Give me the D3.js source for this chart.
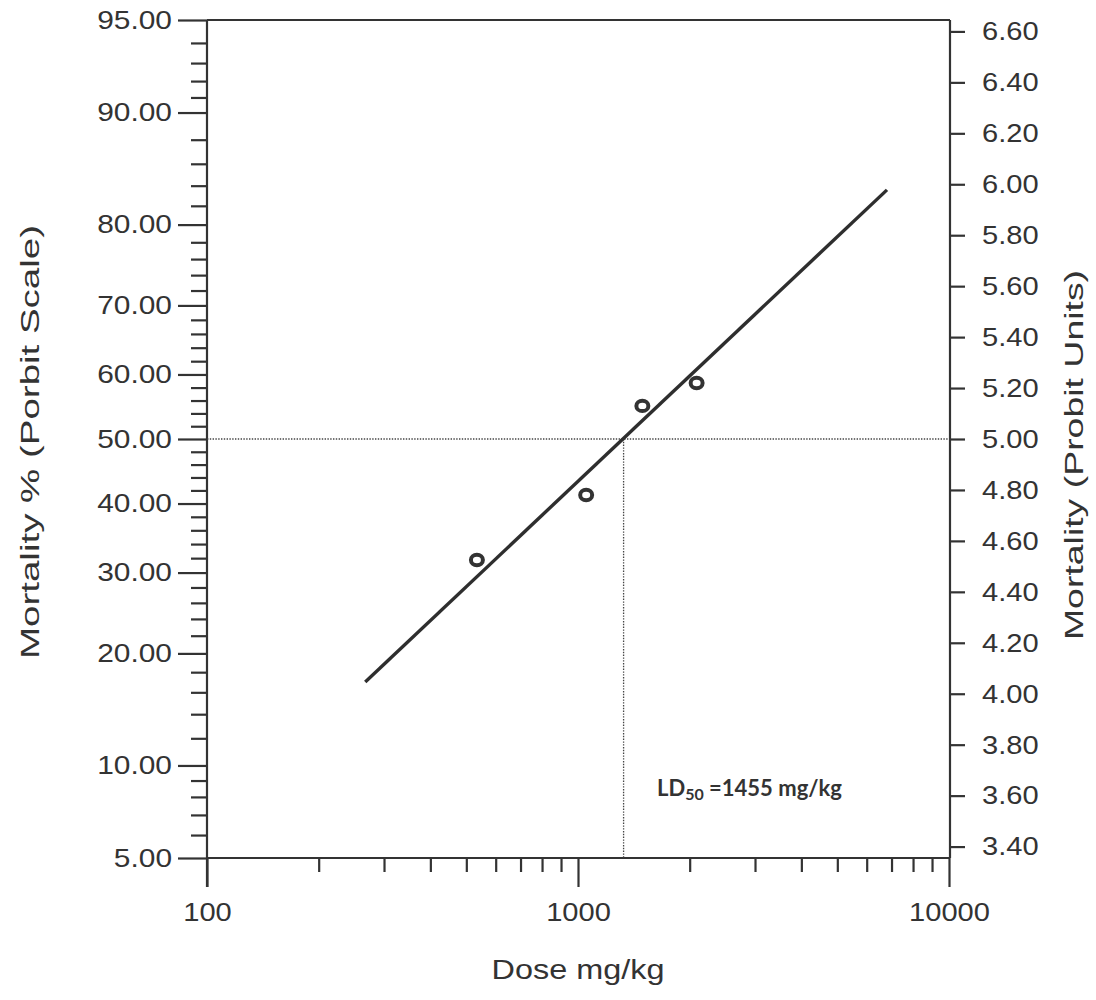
<!DOCTYPE html>
<html>
<head>
<meta charset="utf-8">
<script src="https://cdn.jsdelivr.net/npm/d3@7"></script>
<style>
  body { margin: 0; background: #fff; }
  text { font-family: "Liberation Sans", Arial, sans-serif; fill: #333; }
</style>
</head>
<body>
<svg id="chart"></svg>
<script>
// observed points (dose mg/kg, mortality in probit units)
var doses = [534, 1052, 1491, 2088];
var probits = [4.525, 4.78, 5.13, 5.22];

// fitted probit line ends
var fitDoses = [267, 6805];
var fitProbits = [4.046, 5.978];

// LD50
var ld50Dose = 1327;
var ld50Probit = 5.0;

var pctLabels = [5, 10, 20, 30, 40, 50, 60, 70, 80, 90, 95];
var pctMinor = [6, 7, 8, 9, 12, 14, 16, 18, 22, 24, 26, 28, 32, 34, 36, 38, 42, 44, 46, 48,
                52, 54, 56, 58, 62, 64, 66, 68, 72, 74, 76, 78, 82, 84, 86, 88, 91, 92, 93, 94];
var probitLabels = [3.4, 3.6, 3.8, 4.0, 4.2, 4.4, 4.6, 4.8, 5.0, 5.2, 5.4, 5.6, 5.8, 6.0, 6.2, 6.4, 6.6];
var doseMajor = [100, 1000, 10000];
var doseMinor = [200, 300, 400, 500, 600, 700, 800, 900, 2000, 3000, 4000, 5000, 6000, 7000, 8000, 9000];

// inverse normal (Acklam)
function qnorm(p){
  var a = [-39.69683028665376, 220.9460984245205, -275.9285104469687, 138.3577518672690, -30.66479806614716, 2.506628277459239],
      b = [-54.47609879822406, 161.5858368580409, -155.6989798598866, 66.80131188771972, -13.28068155288572],
      c = [-0.007784894002430293, -0.3223964580411365, -2.400758277161838, -2.549732539343734, 4.374664141464968, 2.938163982698783],
      d = [0.007784695709041462, 0.3224671290700398, 2.445134137142996, 3.754408661907416];
  var q, r;
  if(p < 0.02425){
    q = Math.sqrt(-2 * Math.log(p));
    return (((((c[0]*q+c[1])*q+c[2])*q+c[3])*q+c[4])*q+c[5]) / ((((d[0]*q+d[1])*q+d[2])*q+d[3])*q+1);
  }
  if(p > 1 - 0.02425) return -qnorm(1 - p);
  q = p - 0.5; r = q * q;
  return (((((a[0]*r+a[1])*r+a[2])*r+a[3])*r+a[4])*r+a[5])*q / (((((b[0]*r+b[1])*r+b[2])*r+b[3])*r+b[4])*r+1);
}
function pctToProbit(pct){ return 5 + qnorm(pct / 100); }

var width = 1096, height = 1000;
var plotL = 207, plotR = 949, plotT = 20, plotB = 858;
var ink = '#333';

var svg = d3.select('#chart').attr('width', width).attr('height', height);

var x = d3.scaleLog().domain([100, 10000]).range([plotL, plotR]);
var y = d3.scaleLinear().domain([pctToProbit(5), pctToProbit(95)]).range([plotB, plotT]);

// stretch tick text horizontally, the source font is wide
function stretch(sel, sx){
  sel.selectAll('text').each(function(){
    var t = d3.select(this);
    var tx = +t.attr('x') || 0;
    t.attr('x', tx / sx).attr('transform', 'scale(' + sx + ',1)');
  });
}

function styleAxis(g){
  g.selectAll('path, line').attr('stroke', ink).attr('stroke-width', 2.2);
  g.selectAll('text').attr('fill', ink).style('font-size', '26px')
    .style('font-family', '"Liberation Sans", Arial, sans-serif');
}

// left axis (percent on probit scale)
var leftMinor = svg.append('g').attr('transform', 'translate(' + plotL + ',0)')
  .call(d3.axisLeft(y).tickValues(pctMinor.map(pctToProbit)).tickSize(16).tickSizeOuter(0).tickFormat(''));
styleAxis(leftMinor);
leftMinor.select('.domain').remove();

var leftAxis = svg.append('g').attr('transform', 'translate(' + plotL + ',0)')
  .call(d3.axisLeft(y).tickValues(pctLabels.map(pctToProbit)).tickSize(29).tickSizeOuter(0).tickPadding(6)
    .tickFormat(function(d, i){ return pctLabels[i].toFixed(2); }));
styleAxis(leftAxis);
leftAxis.select('.domain').attr('d', 'M0,' + plotT + 'V' + (plotB + 29));
stretch(leftAxis, 1.15);

// right axis (probit units)
var rightAxis = svg.append('g').attr('transform', 'translate(' + (plotR + 1) + ',0)')
  .call(d3.axisRight(y).tickValues(probitLabels).tickSize(15).tickSizeOuter(0).tickPadding(17)
    .tickFormat(d3.format('.2f')));
styleAxis(rightAxis);
rightAxis.select('.domain').attr('d', 'M0,' + plotT + 'V' + plotB);
stretch(rightAxis, 1.12);

// bottom axis (log dose)
var botMinor = svg.append('g').attr('transform', 'translate(0,' + plotB + ')')
  .call(d3.axisBottom(x).tickValues(doseMinor).tickSize(14).tickSizeOuter(0).tickFormat(''));
styleAxis(botMinor);
botMinor.select('.domain').remove();

var botAxis = svg.append('g').attr('transform', 'translate(0,' + plotB + ')')
  .call(d3.axisBottom(x).tickValues(doseMajor).tickSize(29).tickSizeOuter(0).tickPadding(16)
    .tickFormat(d3.format('d')));
styleAxis(botAxis);
botAxis.select('.domain').attr('d', 'M' + plotL + ',0H' + (plotR + 1));
stretch(botAxis, 1.12);

// top frame line
svg.append('line')
  .attr('x1', plotL).attr('x2', plotR + 1).attr('y1', plotT).attr('y2', plotT)
  .attr('stroke', ink).attr('stroke-width', 2.2);

// LD50 guide lines
svg.append('line')
  .attr('x1', plotL).attr('x2', plotR)
  .attr('y1', y(ld50Probit)).attr('y2', y(ld50Probit))
  .attr('stroke', '#444').attr('stroke-width', 1.3).attr('stroke-dasharray', '1.4,1.4');
svg.append('line')
  .attr('x1', x(ld50Dose)).attr('x2', x(ld50Dose))
  .attr('y1', y(ld50Probit)).attr('y2', plotB)
  .attr('stroke', '#444').attr('stroke-width', 1.3).attr('stroke-dasharray', '1.4,1.4');

// fitted line
var line = d3.line()
  .x(function(d){ return x(d[0]); })
  .y(function(d){ return y(d[1]); });
svg.append('path')
  .datum(d3.zip(fitDoses, fitProbits))
  .attr('d', line)
  .attr('fill', 'none').attr('stroke', '#2e2e2e').attr('stroke-width', 3.4);

// observed points drawn as small "o" rings
svg.selectAll('ellipse.pt')
  .data(d3.zip(doses, probits))
  .enter()
    .append('ellipse')
      .attr('class', 'pt')
      .attr('cx', function(d){ return x(d[0]); })
      .attr('cy', function(d){ return y(d[1]); })
      .attr('rx', 6).attr('ry', 5.2)
      .attr('fill', 'none').attr('stroke', '#333').attr('stroke-width', 4);

// LD50 label
var lab = svg.append('text')
  .attr('x', 657).attr('y', 796)
  .style('font-family', 'Lato, "Open Sans", sans-serif').style('font-weight', 'bold')
  .style('font-size', '22px').attr('fill', '#2e2e2e');
lab.append('tspan').text('LD');
lab.append('tspan').attr('dy', 4).style('font-size', '16px').text('50');
lab.append('tspan').attr('dy', -4).text(' =1455 mg/kg');

// axis titles
svg.append('text')
  .attr('transform', 'translate(578,979) scale(1.2,1)')
  .attr('text-anchor', 'middle').style('font-size', '27px')
  .text('Dose mg/kg');
svg.append('text')
  .attr('transform', 'translate(39,442) rotate(-90) scale(1.48,1)')
  .attr('text-anchor', 'middle').style('font-size', '26px')
  .text('Mortality % (Porbit Scale)');
svg.append('text')
  .attr('transform', 'translate(1083,455) rotate(-90) scale(1.44,1)')
  .attr('text-anchor', 'middle').style('font-size', '26px')
  .text('Mortality (Probit Units)');
</script>
</body>
</html>
